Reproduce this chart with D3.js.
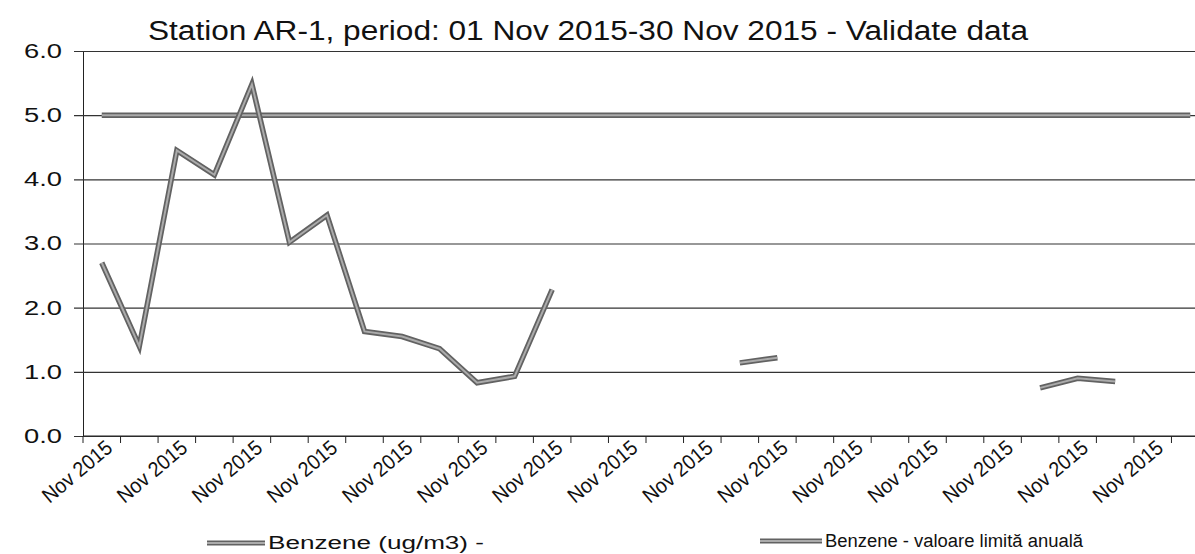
<!DOCTYPE html>
<html>
<head>
<meta charset="utf-8">
<script src="https://cdn.jsdelivr.net/npm/d3@7"></script>
<style>
  body { margin: 0; background: #fff; }
  text { font-family: "Liberation Sans", Arial, sans-serif; fill: #111; }
</style>
</head>
<body>
<div id="chart"></div>
<script>
// days of November 2015 (category axis)
const days = ["01","02","03","04","05","06","07","08","09","10",
              "11","12","13","14","15","16","17","18","19","20",
              "21","22","23","24","25","26","27","28","29","30"];
const tickLabel = "Nov 2015";

// Benzene (ug/m3), daily values; null = no valid data
const benzene = [2.7, 1.4, 4.45, 4.07, 5.48, 3.02, 3.44, 1.63, 1.55, 1.36,
                 0.83, 0.93, 2.28, null, null, null, null, 1.14, 1.22, null,
                 null, null, null, null, null, 0.75, 0.9, 0.85, null, null];

// annual limit value
const limit = [5,5,5,5,5,5,5,5,5,5,5,5,5,5,5,5,5,5,5,5,5,5,5,5,5,5,5,5,5,5];

const yTicks = [0, 1, 2, 3, 4, 5, 6];

const seriesNames = ["Benzene (ug/m3)  -", "Benzene - valoare limită anuală"];

const W = 1195, H = 554;
const margin = { top: 51, left: 83, bottom: 118 };
const plotRight = 1209;

const svg = d3.select("#chart").append("svg")
    .attr("width", W)
    .attr("height", H);

const x = d3.scaleBand()
    .domain(days)
    .range([margin.left, plotRight])
    .padding(0);

const y = d3.scaleLinear()
    .domain([0, 6])
    .range([H - margin.bottom, margin.top]);

// gridlines + y axis
const yAxis = d3.axisLeft(y)
    .tickValues(yTicks)
    .tickFormat(d3.format(".1f"))
    .tickSizeInner(-(W - margin.left))
    .tickSizeOuter(0)
    .tickPadding(20);

const gy = svg.append("g")
    .attr("transform", "translate(" + margin.left + ",0)")
    .call(yAxis);
gy.select(".domain").attr("stroke", "#222");
gy.selectAll(".tick line").attr("stroke", "#333").attr("stroke-width", 1.1).attr("x1", -9);
gy.selectAll(".tick text")
    .attr("x", -21)
    .style("font-size", "20px")
    .attr("textLength", 38)
    .attr("lengthAdjust", "spacingAndGlyphs");

// x axis: ticks at category boundaries
const bounds = days.map(d => x(d)).concat([x(days[days.length - 1]) + x.bandwidth()]);
const gx = svg.append("g").attr("class", "x-axis");
gx.append("line")
    .attr("x1", margin.left).attr("x2", W)
    .attr("y1", y(0)).attr("y2", y(0))
    .attr("stroke", "#222").attr("stroke-width", 1.2);
gx.selectAll(".xtick").data(bounds).enter().append("line")
    .attr("x1", d => d).attr("x2", d => d)
    .attr("y1", y(0)).attr("y2", y(0) + 7)
    .attr("stroke", "#222");

gx.selectAll(".xlabel").data(days.filter((d, i) => i % 2 === 0)).enter().append("text")
    .attr("text-anchor", "end")
    .attr("transform", d => "translate(" + (x(d) + x.bandwidth() / 2 + 12) + "," + (y(0) + 14) + ") rotate(-40)")
    .style("font-size", "21px")
    .attr("textLength", 84)
    .attr("lengthAdjust", "spacingAndGlyphs")
    .text(tickLabel);

// lines
const line = d3.line()
    .defined(d => d !== null)
    .x((d, i) => x(days[i]) + x.bandwidth() / 2)
    .y(d => y(d));

function drawSeries(data) {
    svg.append("path")
        .datum(data)
        .attr("fill", "none")
        .attr("stroke", "#626262")
        .attr("stroke-width", 5.5)
        .attr("stroke-linejoin", "miter")
        .attr("d", line);
    svg.append("path")
        .datum(data)
        .attr("fill", "none")
        .attr("stroke", "#ababab")
        .attr("stroke-width", 2)
        .attr("stroke-linejoin", "miter")
        .attr("d", line);
}
drawSeries(limit);
drawSeries(benzene);

// title
svg.append("text")
    .attr("x", 148)
    .attr("y", 40)
    .style("font-size", "27px")
    .attr("textLength", 880)
    .attr("lengthAdjust", "spacingAndGlyphs")
    .text("Station AR-1, period: 01 Nov 2015-30 Nov 2015 - Validate data");

// legend
const legend = [
    { x0: 207, x1: 265, ty: 549, tl: 216 },
    { x0: 760, x1: 822, ty: 547, tl: 258 }
];
legend.forEach((l, i) => {
    const ly = l.ty - 6;
    svg.append("line").attr("x1", l.x0).attr("x2", l.x1).attr("y1", ly).attr("y2", ly)
        .attr("stroke", "#626262").attr("stroke-width", 5);
    svg.append("line").attr("x1", l.x0).attr("x2", l.x1).attr("y1", ly).attr("y2", ly)
        .attr("stroke", "#ababab").attr("stroke-width", 2);
    svg.append("text")
        .attr("x", l.x1 + 3)
        .attr("y", l.ty)
        .style("font-size", "18px")
        .attr("textLength", l.tl)
        .attr("lengthAdjust", "spacingAndGlyphs")
        .text(seriesNames[i]);
});
</script>
</body>
</html>
